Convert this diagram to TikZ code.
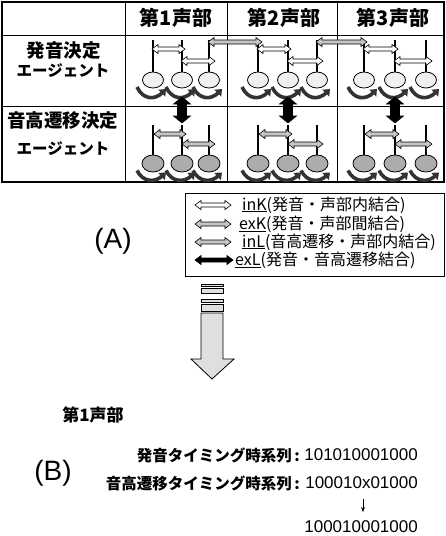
\documentclass[tikz,border=0pt]{standalone}
\usepackage{fontspec}
\setmainfont{Liberation Sans}
\newfontfamily\jp{Noto Sans CJK JP}
\usetikzlibrary{calc,arrows.meta,shapes.geometric}
\tikzset{
  frame/.style={line width=1.6pt},
  grid/.style={line width=0.8pt},
  stem/.style={line width=2.2pt},
  noteA/.style={ellipse, draw, line width=0.8pt, fill=gray!12, minimum width=21pt, minimum height=16pt, inner sep=0pt},
  noteB/.style={ellipse, draw, line width=0.8pt, fill=gray!65, minimum width=22pt, minimum height=17pt, inner sep=0pt},
  swoosh/.style={line width=3.6pt, draw=gray!40!black, -{Triangle[length=6pt,width=9.5pt]}},
  hdbl/.style={line width=0.6pt, draw=black, to path={let \p1=(\tikztostart),\p2=(\tikztotarget) in
    (\x1,\y1) -- (\x1+6pt,\y1+4.5pt) -- (\x1+6pt,\y1+2pt) -- (\x2-6pt,\y2+2pt) -- (\x2-6pt,\y2+4.5pt) -- (\x2,\y2)
    -- (\x2-6pt,\y2-4.5pt) -- (\x2-6pt,\y2-2pt) -- (\x1+6pt,\y1-2pt) -- (\x1+6pt,\y1-4.5pt) -- cycle}},
  vdbl/.style={line width=0.6pt, draw=black, fill=black, to path={let \p1=(\tikztostart),\p2=(\tikztotarget) in
    (\x1,\y1) -- (\x1+8.5pt,\y1-7pt) -- (\x1+4.5pt,\y1-7pt) -- (\x2+4.5pt,\y2+7pt) -- (\x2+8.5pt,\y2+7pt) -- (\x2,\y2)
    -- (\x2-8.5pt,\y2+7pt) -- (\x2-4.5pt,\y2+7pt) -- (\x1-4.5pt,\y1-7pt) -- (\x1-8.5pt,\y1-7pt) -- cycle}},
  hdr/.style={font=\jp\bfseries\fontsize{20}{20}\selectfont, inner sep=0pt},
  lblA/.style={font=\jp\bfseries\fontsize{18.5}{18.5}\selectfont, inner sep=0pt},
  lblB/.style={font=\jp\bfseries\fontsize{15.5}{15.5}\selectfont, inner sep=0pt},
  lg/.style={font=\jp\fontsize{16}{16}\selectfont, inner sep=0pt, anchor=west},
  big/.style={font=\fontsize{28}{28}\selectfont, inner sep=0pt},
  btxt/.style={font=\jp\bfseries\fontsize{15.5}{15.5}\selectfont, inner sep=0pt, anchor=east},
  bnum/.style={font=\fontsize{17}{17}\selectfont, inner sep=0pt, anchor=east},
  bigarrow/.style={draw=black, line width=0.8pt, fill=gray!25},
}
\begin{document}
\begin{tikzpicture}[x=1pt,y=-1pt]
\useasboundingbox (0,0) rectangle (445,536);

% ---------- table ----------
\draw[grid] (2,35) -- (444,35) (2,106) -- (444,106)
  (125,2) -- (125,182) (227,2) -- (227,182) (337,2) -- (337,182);
\draw[frame] (2,2) rectangle (444,182);

\node[hdr] (h1) at (176,18) {第1声部};
\node[hdr] (h2) at (284,18) {第2声部};
\node[hdr] (h3) at (393,18) {第3声部};

\node[lblA] (r1a) at (64,51) {発音決定};
\node[lblB] (r1b) at (63,71) {エージェント};
\node[lblA] (r2a) at (63,121) {音高遷移決定};
\node[lblB] (r2b) at (63,149) {エージェント};

\foreach \c/\a/\b/\d in {1/153/182/209, 2/258/288/317, 3/364/395/426}{
  \foreach \x [count=\i] in {\a,\b,\d}{
    \node[noteA] (u\c\i) at (\x,80) {};
    \coordinate (ut\c\i) at (\x,40);
    \draw[stem] (ut\c\i) -- (u\c\i.north);
    \draw[swoosh] ($(u\c\i)+(-16,7)$) .. controls ($(u\c\i)+(-10,20)$) and ($(u\c\i)+(2,20)$) .. ($(u\c\i)+(13,9)$);
    \node[noteB] (d\c\i) at (\x,163.5) {};
    \coordinate (dt\c\i) at (\x,125);
    \draw[stem] (dt\c\i) -- (d\c\i.north);
    \draw[swoosh] ($(d\c\i)+(-16,7)$) .. controls ($(d\c\i)+(-10,19)$) and ($(d\c\i)+(2,19)$) .. ($(d\c\i)+(13,9)$);
  }
  % inK arrows
  \coordinate (ka\c) at (\a-1,49); \coordinate (kb\c) at (\b+3,49);
  \coordinate (kc\c) at (\b-1,61); \coordinate (kd\c) at (\d+6,61);
  \draw[hdbl, fill=white] (ka\c) to (kb\c);
  \draw[hdbl, fill=white] (kc\c) to (kd\c);
  % inL arrows
  \coordinate (la\c) at (\a+1,134); \coordinate (lb\c) at (\b+4,134);
  \coordinate (lc\c) at (\b,144); \coordinate (ld\c) at (\d+6,144);
  \draw[hdbl, fill=gray!45] (la\c) to (lb\c);
  \draw[hdbl, fill=gray!45] (lc\c) to (ld\c);
  % exL arrow
  \coordinate (et\c) at (\b,97); \coordinate (eb\c) at (\b,123);
  \draw[vdbl] (et\c) to (eb\c);
}
% exK arrows
\coordinate (xa1) at (208,42); \coordinate (xb1) at (262,42);
\coordinate (xa2) at (316,42); \coordinate (xb2) at (367,42);
\draw[hdbl, fill=gray!45] (xa1) to (xb1);
\draw[hdbl, fill=gray!45] (xa2) to (xb2);

% ---------- legend ----------
\draw[grid] (185,193) rectangle (444,276);
\coordinate (g1a) at (195,205); \coordinate (g1b) at (231,205);
\coordinate (g2a) at (195,224); \coordinate (g2b) at (231,224);
\coordinate (g3a) at (195,242); \coordinate (g3b) at (231,242);
\coordinate (g4a) at (195,260); \coordinate (g4b) at (233,260);
\draw[hdbl, fill=white] (g1a) to (g1b);
\draw[hdbl, fill=gray!45] (g2a) to (g2b);
\draw[hdbl, fill=gray!45] (g3a) to (g3b);
\draw[hdbl, fill=black] (g4a) to (g4b);
\node[lg] (t1) at (242,205) {\underline{inK}(発音・声部内結合)};
\node[lg] (t2) at (239,224) {\underline{exK}(発音・声部間結合)};
\node[lg] (t3) at (242,242) {\underline{inL}(音高遷移・声部内結合)};
\node[lg] (t4) at (235,260) {\underline{exL}(発音・音高遷移結合)};

\node[big] (A) at (113,241) {(A)};

% ---------- big arrow ----------
\draw[bigarrow] (201,284) rectangle (223,286);
\draw[bigarrow] (201,288) rectangle (223,293);
\draw[bigarrow] (201,299) rectangle (223,302);
\draw[bigarrow] (201,304) rectangle (223,311);
\draw[bigarrow] (201,313) -- (223,313) -- (223,359) -- (234,359) -- (212,379) -- (191,359) -- (201,359) -- cycle;

% ---------- part B ----------
\node[font=\jp\bfseries\fontsize{17}{17}\selectfont, inner sep=0pt] (v1) at (93,415) {第1声部};
\node[big] (B) at (53,473) {(B)};
\node[btxt] (p1) at (300,455) {発音タイミング時系列\,:};
\node[bnum] (q1) at (418,455) {101010001000};
\node[btxt] (p2) at (300,483) {音高遷移タイミング時系列\,:};
\node[bnum] (q2) at (418,483) {100010x01000};
\node[bnum] (q3) at (418,527) {100010001000};
\coordinate (ar1) at (363,499);
\coordinate (ar2) at (363,512);
\draw[line width=0.8pt, -{Stealth[length=5pt,width=4pt]}] (ar1) -- (ar2);
\end{tikzpicture}
\end{document}
